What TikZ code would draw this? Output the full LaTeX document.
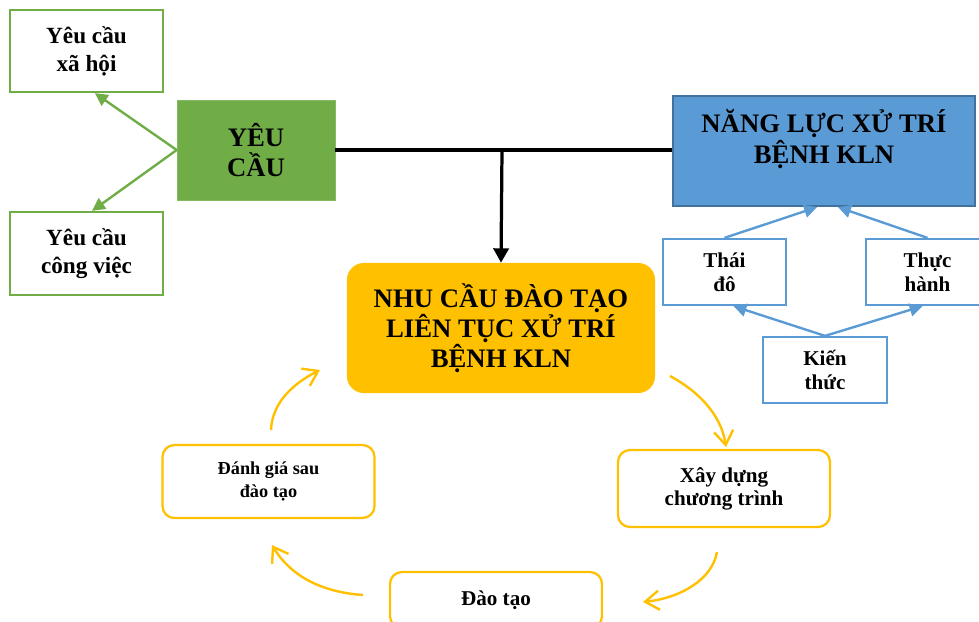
\documentclass[tikz,border=0pt]{standalone}
\usepackage{fontspec}
\setmainfont{Liberation Serif}
\usetikzlibrary{arrows.meta,positioning}
\definecolor{ycgreen}{HTML}{70AD47}
\definecolor{nlblue}{HTML}{5B9BD5}
\definecolor{nlborder}{HTML}{41719C}
\definecolor{ncyellow}{HTML}{FFC000}

\begin{document}
\begin{tikzpicture}[x=0.025cm,y=-0.025cm,>=Latex,
  greenbox/.style={draw=ycgreen,line width=1.6pt,fill=white,align=center,font=\fontsize{16.5}{20}\selectfont\bfseries},
  bluebox/.style={draw=nlblue,line width=1.6pt,fill=white,align=center,minimum width=3.075cm,minimum height=1.65cm,font=\fontsize{15}{17}\selectfont\bfseries},
  cyclebox/.style={draw=ncyellow,line width=1.6pt,fill=white,rounded corners=0.3cm,align=center,minimum width=5.3cm,font=\fontsize{15}{16.5}\selectfont\bfseries},
  bigtext/.style={align=center,font=\fontsize{19}{21.5}\selectfont\bfseries},
  greenarrow/.style={draw=ycgreen,line width=1.7pt,-{Triangle[length=3.2mm,width=3.2mm]}},
  bluearrow/.style={draw=nlblue,line width=1.7pt,-{Triangle[length=3.2mm,width=3.2mm]}},
  cyclearrow/.style={draw=ncyellow,line width=1.7pt,-{Straight Barb[length=3.5mm,width=4.8mm]}}]
\clip (0,0) rectangle (979,621);
% left side
\node[greenbox,minimum width=3.825cm,minimum height=2.05cm] (yc_xh) at (86.5,51) {Yêu cầu\\xã hội};
\node[greenbox,minimum width=3.825cm,minimum height=2.075cm] (yc_cv) at (86.5,253.5) {Yêu cầu\\công việc};
\node[bigtext,fill=ycgreen,draw=ycgreen!85!white,minimum width=3.95cm,minimum height=2.5cm] (yc) at (256,150) {YÊU\\CẦU};
% right side
\node[fill=nlblue,draw=nlborder,line width=1.6pt,minimum width=7.55cm,minimum height=2.75cm] (nl) at (824,151) {};
\node[bigtext] (nl_txt) at (824,139) {NĂNG LỰC XỬ TRÍ\\BỆNH KLN};
\node[bluebox] (nl_td) at (724.5,272) {Thái\\đô};
\node[bluebox] (nl_th) at (927.5,272) {Thực\\hành};
\node[bluebox,minimum width=3.1cm] (nl_kt) at (825,370) {Kiến\\thức};
% centre and cycle
\node[bigtext,fill=ncyellow,rounded corners=0.42cm,minimum width=7.7cm,minimum height=3.25cm] (nc) at (501,328) {NHU CẦU ĐÀO TẠO\\LIÊN TỤC XỬ TRÍ\\BỆNH KLN};
\node[cyclebox,minimum height=1.825cm,font=\fontsize{13}{16}\selectfont\bfseries] (nc_dg) at (268.5,481.5) {Đánh giá sau\\đào tạo};
\node[cyclebox,minimum height=1.925cm] (nc_xd) at (724,488.5) {Xây dựng\\chương trình};
\node[cyclebox,minimum height=1.4cm] (nc_dt) at (496,600) {Đào tạo};

\draw[greenarrow] (yc.west) -- ([xshift=0.21cm]yc_xh.south);
\draw[greenarrow] (yc.west) -- ([xshift=0.14cm]yc_cv.north);
\draw[line width=2.3pt] (yc.east) -- (yc.east -| nl.west);
\coordinate (jn) at (502,150);
\draw[line width=2.3pt,-{Triangle[length=3.6mm,width=3.8mm]}] (jn) -- (nc.north);
\draw[bluearrow] (nl_td.north) -- ([xshift=-0.175cm]nl.south);
\draw[bluearrow] (nl_th.north) -- ([xshift=0.35cm]nl.south);
\draw[bluearrow] (nl_kt.north) -- ([xshift=0.225cm]nl_td.south);
\draw[bluearrow] (nl_kt.north) -- ([xshift=-0.125cm]nl_th.south);

\coordinate (c1a) at (670,376); \coordinate (c1b) at (726,447);
\coordinate (c2a) at (717,552); \coordinate (c2b) at (643,602);
\coordinate (c3a) at (363,595); \coordinate (c3b) at (272,545);
\coordinate (c4a) at (271,430); \coordinate (c4b) at (320,370);
\draw[cyclearrow] (c1a) .. controls (705,395) and (722,420) .. (c1b);
\draw[cyclearrow] (c2a) .. controls (712,580) and (680,598) .. (c2b);
\draw[cyclearrow] (c3a) .. controls (320,592) and (290,575) .. (c3b);
\draw[cyclearrow] (c4a) .. controls (272,405) and (290,385) .. (c4b);
\end{tikzpicture}
\end{document}
